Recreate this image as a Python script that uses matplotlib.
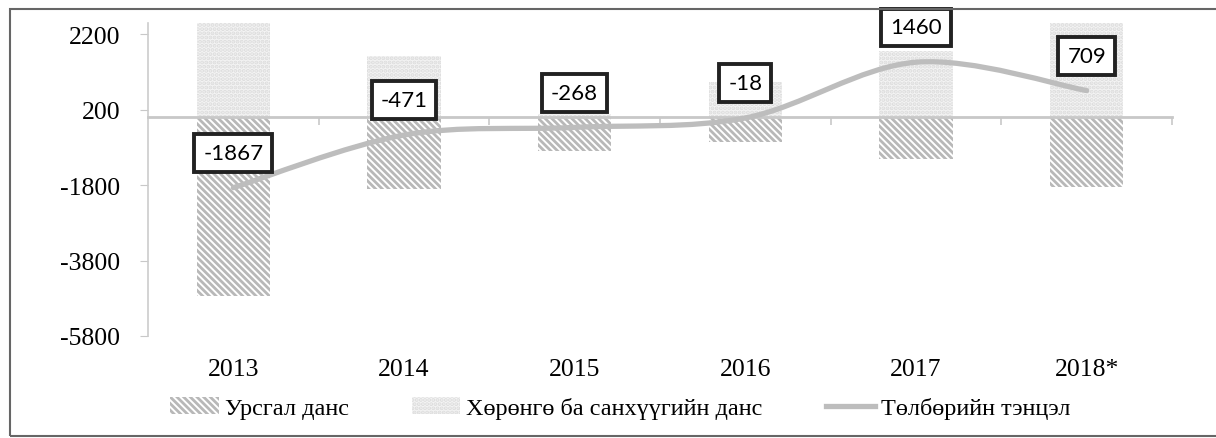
import matplotlib.pyplot as plt
from matplotlib.path import Path
from matplotlib.patches import PathPatch, Rectangle, Patch
from matplotlib.lines import Line2D
import numpy as np

years = ['2013', '2014', '2015', '2016', '2017', '2018*']
current = [-4740, -1910, -900, -660, -1110, -1850]
financial = [2500, 1620, 100, 930, 1750, 2500]
balance = [-1867, -471, -268, -18, 1460, 709]
yticks = [-5800, -3800, -1800, 200, 2200]
names = ['Урсгал данс', 'Хөрөнгө ба санхүүгийн данс', 'Төлбөрийн тэнцэл']

plt.rcParams['font.family'] = ['Liberation Serif', 'DejaVu Serif']
plt.rcParams['hatch.linewidth'] = 2.0

W, H = 1216, 439
fig = plt.figure(figsize=(W / 100, H / 100), dpi=100)
ax = fig.add_axes([148 / W, 1 - 337 / H, (1172 - 148) / W, (337 - 24) / H])
x = np.arange(len(years))

stripes = '\\' * 5
dots = '....'

ax.bar(x, financial, width=0.43, color='#f4f4f4', edgecolor='#dcdcdc',
       hatch=dots, linewidth=0, zorder=1)
ax.bar(x, current, width=0.43, color='white', edgecolor='#b8b8b8',
       hatch=stripes, linewidth=0, zorder=1)

# smoothed line (bezier through the points, like excel)
pts = np.column_stack([x, balance]).astype(float)
verts = [pts[0]]
codes = [Path.MOVETO]
for i in range(len(pts) - 1):
    p0 = pts[max(i - 1, 0)]
    p1 = pts[i]
    p2 = pts[i + 1]
    p3 = pts[min(i + 2, len(pts) - 1)]
    verts += [p1 + (p2 - p0) / 6, p2 - (p3 - p1) / 6, p2]
    codes += [Path.CURVE4] * 3
ax.add_patch(PathPatch(Path(verts, codes), fc='none', ec='#bdbdbd', lw=3.8,
                       capstyle='round', zorder=3))

for i, v in enumerate(balance):
    ax.annotate(str(v), (i, v), xytext=(0, 25), textcoords='offset points',
                ha='center', va='center', fontsize=16, family=['Lato', 'DejaVu Sans'],
                bbox=dict(boxstyle='square,pad=0.4', fc='white', ec='#222222', lw=2.8),
                zorder=5)

ax.set_xlim(-0.5, 5.5)
ax.set_ylim(-5800, 2500)
ax.set_yticks(yticks)
ax.set_yticklabels([str(t) for t in yticks])
ax.tick_params(axis='y', labelsize=18.5, length=6, color='#c8c8c8', pad=14)

ax.spines['top'].set_visible(False)
ax.spines['right'].set_visible(False)
ax.spines['left'].set_color('#cccccc')
ax.spines['left'].set_linewidth(1.2)
ax.spines['bottom'].set_position(('data', 0))
ax.spines['bottom'].set_color('#c8c8c8')
ax.spines['bottom'].set_linewidth(2)
ax.set_xticks(x)
ax.set_xticklabels(years)
ax.set_xticks(np.arange(len(years)) + 0.5, minor=True)
ax.tick_params(axis='x', which='major', length=0, labelsize=18.5, pad=173)
ax.tick_params(axis='x', which='minor', length=6, color='#c8c8c8', width=1.2)

handles = [Patch(fc='white', ec='#b8b8b8', hatch=stripes, lw=0),
           Patch(fc='#f4f4f4', ec='#dcdcdc', hatch=dots, lw=0),
           Line2D([], [], color='#bdbdbd', lw=3.8)]
fig.legend(handles, names, loc='center', bbox_to_anchor=(620 / W, 1 - 409 / H),
           ncol=3, frameon=False, fontsize=17.5, handlelength=2.0, handletextpad=0.25,
           columnspacing=2.6)

fig.patches.append(Rectangle((10 / W, 2 / H), 1.0, 1 - 12 / H, transform=fig.transFigure,
                             fill=False, ec='#666666', lw=1.5))

plt.savefig('out.png', dpi=100)
